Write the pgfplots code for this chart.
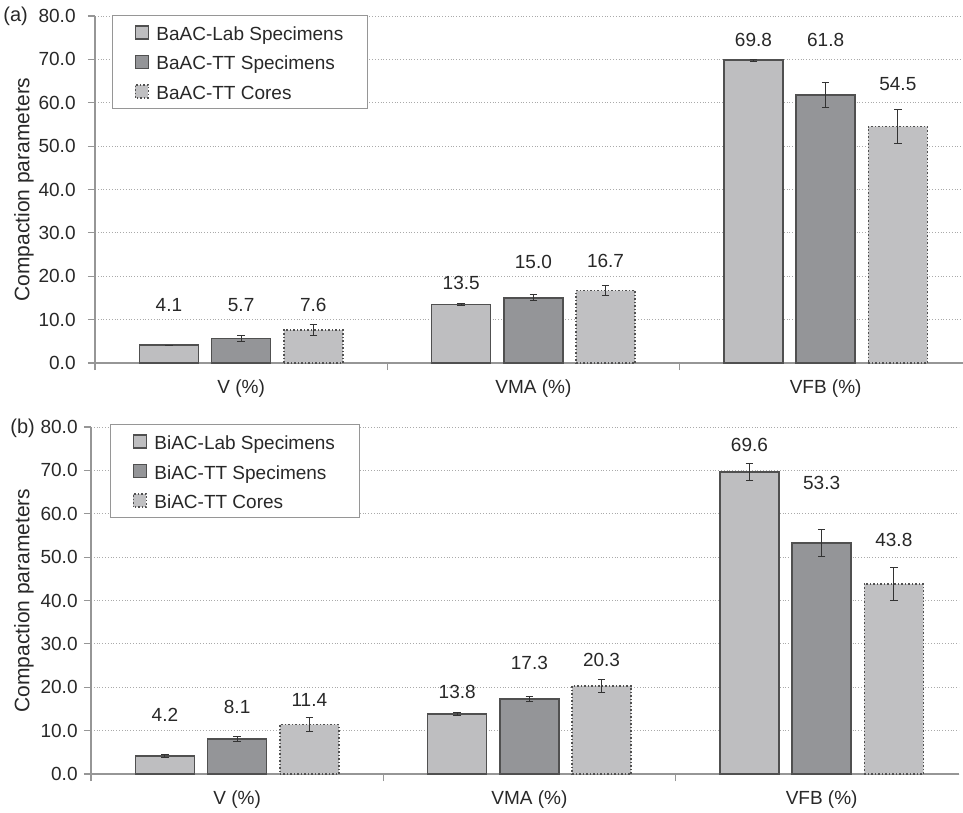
\documentclass[border=0pt]{standalone}
\usepackage{fontspec}
\setmainfont{Liberation Sans}
\usepackage{pgfplots}
\pgfplotsset{compat=1.18}
\usepackage{pgfplotstable}

\definecolor{labfill}{RGB}{190,190,192}
\definecolor{ttfill}{RGB}{148,149,152}
\definecolor{corefill}{RGB}{192,192,194}
\definecolor{edgec}{RGB}{80,80,80}
\definecolor{gridc}{RGB}{170,170,170}
\definecolor{axc}{RGB}{150,150,150}
\definecolor{txt}{RGB}{40,40,40}

% top panel (a)
\pgfplotstableread{
x y err
-0.247 4.1 0.0
0.753 13.5 0.15
1.753 69.8 0.2
}\aLab
\pgfplotstableread{
x y err
0 5.7 0.7
1 15.0 0.7
2 61.8 2.8
}\aTT
\pgfplotstableread{
x y err
0.247 7.6 1.2
1.247 16.7 1.1
2.247 54.5 3.9
}\aCore
\pgfplotstableread{
x y lab
-0.247 13.4 4.1
0 13.4 5.7
0.247 13.4 7.6
0.753 18.4 13.5
1 23.2 15.0
1.247 23.5 16.7
1.753 74.5 69.8
2 74.5 61.8
2.247 64.3 54.5
}\aLabels

% bottom panel (b)
\pgfplotstableread{
x y err
-0.247 4.2 0.4
0.753 13.8 0.3
1.753 69.6 2.0
}\bLab
\pgfplotstableread{
x y err
0 8.1 0.6
1 17.3 0.6
2 53.3 3.1
}\bTT
\pgfplotstableread{
x y err
0.247 11.4 1.6
1.247 20.3 1.4
2.247 43.8 3.9
}\bCore
\pgfplotstableread{
x y lab
-0.247 13.6 4.2
0 15.5 8.1
0.247 17.0 11.4
0.753 18.9 13.8
1 25.5 17.3
1.247 26.3 20.3
1.753 75.8 69.6
2 67.1 53.3
2.247 53.9 43.8
}\bLabels

\pgfplotsset{
  sqlegend/.style={legend image code/.code={\draw[##1] (0pt,-3.25pt) rectangle (6.5pt,3.25pt);}},
  barbase/.style={ybar, bar width=0.202, bar shift=0pt, line width=0.75pt, sqlegend,
    error bars/y dir=both, error bars/y explicit,
    error bars/error bar style={line width=0.5pt, draw=black!80, solid},
    error bars/error mark options={rotate=90, mark size=1.9pt, line width=0.5pt, draw=black!80, solid}},
  labstyle/.style={barbase, fill=labfill, draw=edgec},
  ttstyle/.style={barbase, fill=ttfill, draw=edgec},
  corestyle/.style={barbase, fill=corefill, draw=edgec, densely dotted},
  valuelabels/.style={draw=none, forget plot, nodes near coords, point meta=explicit symbolic,
    every node near coord/.style={anchor=center, font=\fontsize{9.5}{11}\selectfont, text=txt, inner sep=0pt}},
  panel/.style={
    width=434pt, height=173.5pt, scale only axis,
    xmin=-0.5, xmax=2.47, ymin=0, ymax=80,
    axis x line*=bottom, axis y line*=left,
    axis line style={draw=axc, line width=0.6pt},
    ytick={0,10,...,80},
    xtick={0,1,2}, xticklabels={V (\%), VMA (\%), VFB (\%)},
    minor xtick={-0.5,0.5,1.5},
    major x tick style={draw=none},
    minor x tick style={draw=axc, line width=0.6pt},
    major y tick style={draw=axc, line width=0.6pt},
    tick align=outside, major tick length=3.5pt, minor tick length=3.5pt,
    ymajorgrids, major grid style={draw=gridc, densely dotted, line width=0.5pt},
    yticklabel style={/pgf/number format/fixed, /pgf/number format/fixed zerofill, /pgf/number format/precision=1, inner sep=0pt, xshift=-6pt},
    /pgf/number format/assume math mode=true,
    tick label style={font=\fontsize{9.5}{11}\selectfont, text=txt},
    xticklabel style={yshift=-1.3pt},
    ylabel={Compaction parameters},
    every axis y label/.style={at={(axis description cs:-0.0818,0.5)}, rotate=90, anchor=center, font=\fontsize{10.5}{12}\selectfont, text=txt},
    legend cell align=left,
    legend style={draw=axc, line width=0.5pt, font=\fontsize{9.5}{11}\selectfont, text=txt, anchor=north west,
      inner xsep=11pt, inner ysep=2.8pt, row sep=3.35pt,
      nodes={inner sep=1.2pt, text height=8.5pt, text depth=0.5pt},
      /tikz/every odd column/.append style={column sep=2.5pt}},
    clip=false,
  }
}

\begin{document}
\begin{tikzpicture}
\useasboundingbox (0,0) rectangle (481.5pt,-406.5pt);
\begin{axis}[panel, at={(47.5pt,-181.5pt)}, anchor=south west,
  legend style={at={(axis description cs:0.0196,1.003)}}]
\addplot[labstyle] table[x=x,y=y,y error=err] {\aLab};
\addlegendentry{BaAC-Lab Specimens}
\addplot[ttstyle] table[x=x,y=y,y error=err] {\aTT};
\addlegendentry{BaAC-TT Specimens}
\addplot[corestyle] table[x=x,y=y,y error=err] {\aCore};
\addlegendentry{BaAC-TT Cores}
\addplot[valuelabels] table[x=x,y=y,meta=lab] {\aLabels};
\end{axis}
\begin{axis}[panel, at={(45.5pt,-387pt)}, anchor=south west,
  yticklabel style={xshift=3pt},
  every axis y label/.append style={at={(axis description cs:-0.0772,0.5)}},
  legend style={at={(axis description cs:0.0219,1.0086)}}]
\addplot[labstyle] table[x=x,y=y,y error=err] {\bLab};
\addlegendentry{BiAC-Lab Specimens}
\addplot[ttstyle] table[x=x,y=y,y error=err] {\bTT};
\addlegendentry{BiAC-TT Specimens}
\addplot[corestyle] table[x=x,y=y,y error=err] {\bCore};
\addlegendentry{BiAC-TT Cores}
\addplot[valuelabels] table[x=x,y=y,meta=lab] {\bLabels};
\end{axis}
\node[anchor=west, inner sep=0pt, font=\fontsize{10}{12}\selectfont, text=txt] at (1.5pt,-8pt) {(a)};
\node[anchor=west, inner sep=0pt, font=\fontsize{10}{12}\selectfont, text=txt] at (5pt,-214pt) {(b)};
\end{tikzpicture}
\end{document}
